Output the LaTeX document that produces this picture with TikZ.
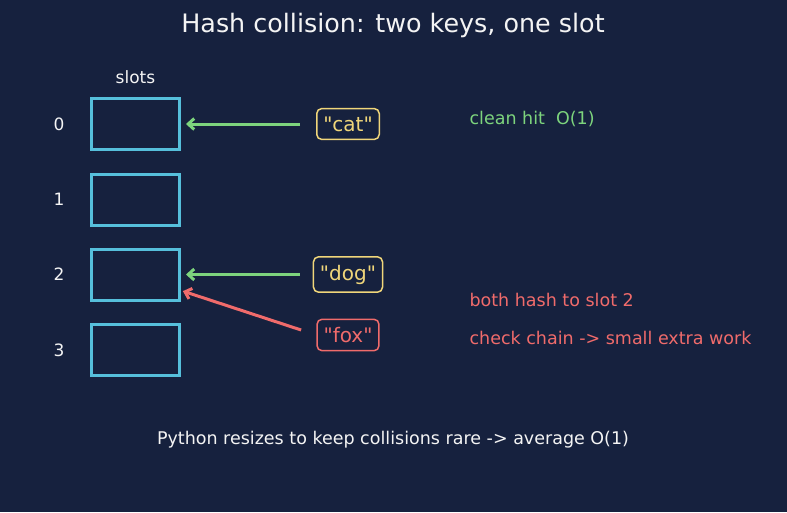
\documentclass[tikz,border=0pt]{standalone}
\usepackage{fontspec}
\setmainfont{DejaVu Sans}
\newfontfamily\keyfont{DejaVu Sans}
\usetikzlibrary{arrows.meta}
\definecolor{bgnavy}{HTML}{16213E}
\definecolor{slotcyan}{HTML}{56BFDB}
\definecolor{hitgreen}{HTML}{7DD47D}
\definecolor{keyyellow}{HTML}{F0D67A}
\definecolor{clashred}{HTML}{F06B6B}
\definecolor{txtwhite}{HTML}{F4F4F4}
\tikzset{
  slot/.style    = {rectangle, draw=slotcyan, line width=3pt, minimum width=88pt, minimum height=51pt, inner sep=0},
  idx/.style     = {text=txtwhite, font=\fontsize{17}{20}\selectfont},
  chiave/.style  = {rectangle, rounded corners=5pt, draw=keyyellow, line width=1.5pt, text=keyyellow, inner xsep=6.5pt, inner ysep=8pt, font=\keyfont\fontsize{20}{24}\selectfont},
  hit/.style     = {draw=hitgreen, line width=3pt, -{Straight Barb[length=6pt,width=11pt]}, shorten <=13pt, shorten >=5pt},
  clash/.style   = {draw=clashred, line width=3pt, -{Straight Barb[length=6pt,width=11pt]}, shorten <=16pt, shorten >=2pt},
  nota/.style    = {anchor=west, font=\fontsize{17.5}{21}\selectfont}
}

\begin{document}
\begin{tikzpicture}[x=1pt, y=-1pt]

  \fill[bgnavy] (0,0) rectangle (787,512);
  \useasboundingbox (0,0) rectangle (787,512);

  \node[text=txtwhite, font=\fontsize{25.4}{30}\selectfont] (titolo) at (393,25) {Hash collision: two keys, one slot};

  % tabella
  \node[idx] (slots) at (135.5,77) {slots};
  \node[slot] (s0) at (135.5,124)   {}; \node[idx] (i0) at (59,124)   {0};
  \node[slot] (s1) at (135.5,199.5) {}; \node[idx] (i1) at (59,199.5) {1};
  \node[slot] (s2) at (135.5,274.5) {}; \node[idx] (i2) at (59,274.5) {2};
  \node[slot] (s3) at (135.5,350)   {}; \node[idx] (i3) at (59,350)   {3};

  % chiavi
  \node[chiave] (cat) at (348,124) {"cat"};
  \node[chiave] (dog) at (348,274.5) {"dog"};
  \node[chiave, draw=clashred, text=clashred] (fox) at (348,335) {"fox"};

  \coordinate (s2low) at ([yshift=-16pt]s2.east);
  \draw[hit, shorten <=16pt] (cat.west) -- (s0.east);
  \draw[hit] (dog.west) -- (s2.east);
  \draw[clash] (fox.west) -- (s2low);

  % note
  \node[nota, text=hitgreen] (n0) at (466,119) {clean hit\ \ O(1)};
  \node[nota, text=clashred] (n1) at (466,300) {both hash to slot 2};
  \node[nota, text=clashred] (n2) at (466,338) {check chain -> small extra work};

  \node[text=txtwhite, font=\fontsize{17.5}{21}\selectfont] (piede) at (393,440) {Python resizes to keep collisions rare -> average O(1)};

\end{tikzpicture}
\end{document}
